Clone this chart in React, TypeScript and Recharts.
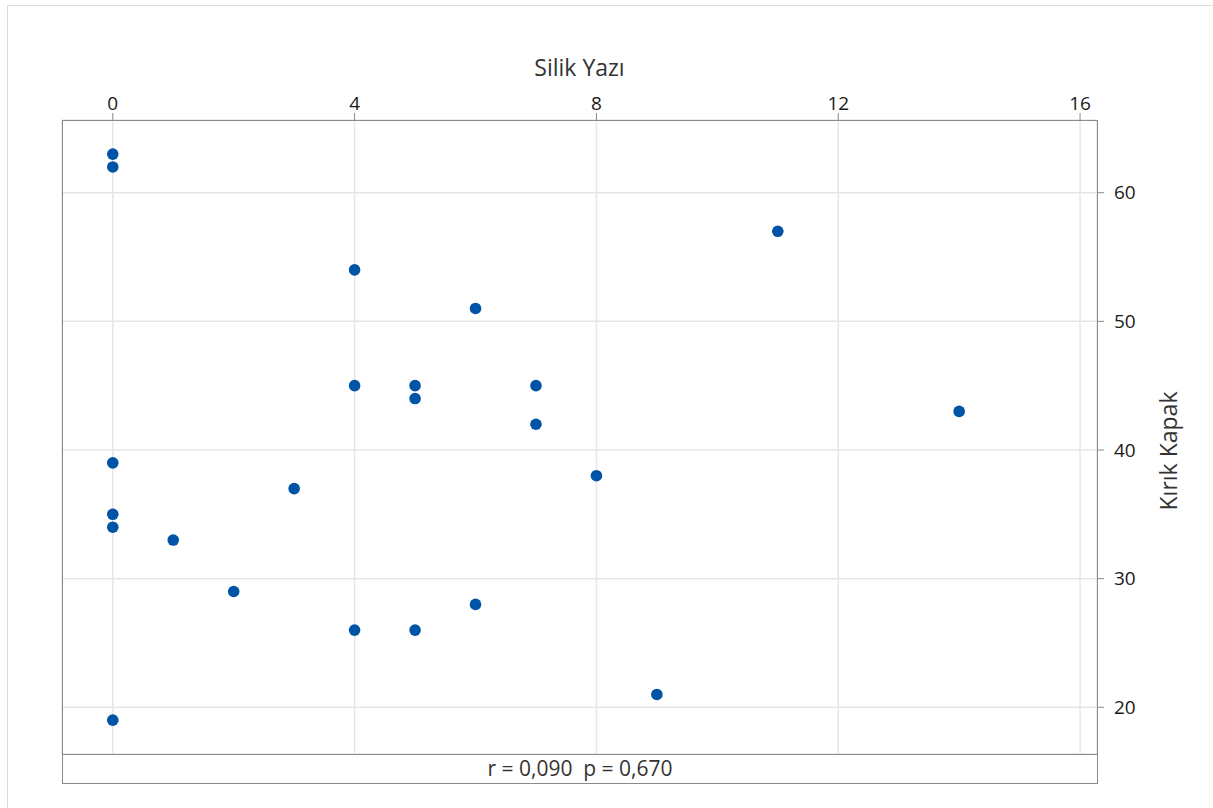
import { ScatterChart, Scatter, XAxis, YAxis, CartesianGrid } from "recharts";

const silikYazi = [0, 0, 0, 0, 0, 0, 1, 2, 3, 4, 4, 4, 5, 5, 5, 6, 6, 7, 7, 8, 9, 11, 14];
const kirikKapak = [63, 62, 39, 35, 34, 19, 33, 29, 37, 54, 45, 26, 45, 44, 26, 51, 28, 45, 42, 38, 21, 57, 43];
const xTicks = [0, 4, 8, 12, 16];
const yTicks = [20, 30, 40, 50, 60];
const statsText = "r = 0,090  p = 0,670";

const FONT = "'Open Sans', 'Noto Sans', sans-serif";
const DOT = "#0054a6";

const points = silikYazi.map((x, i) => ({ x, y: kirikKapak[i] }));

export default function App() {
  return (
    <div style={{ position: "absolute", left: 0, top: 0, width: 1213, height: 808, overflow: "hidden", background: "#fff", fontFamily: FONT }}>
      {/* outer frame, runs off the page on right/bottom */}
      <div style={{ position: "absolute", left: 7, top: 5, width: 1300, height: 900, border: "1px solid #dcdcdc" }} />
      <ScatterChart width={1213} height={808} margin={{ top: 50, right: 36, bottom: 54, left: 62 }}>
        <CartesianGrid stroke="#e6e6e6" strokeWidth={1.5} />
        <XAxis
          type="number"
          dataKey="x"
          orientation="top"
          height={70}
          domain={[-0.84, 16.28]}
          ticks={xTicks}
          allowDataOverflow
          axisLine={false}
          tickSize={7}
          tickMargin={3}
          tickLine={{ stroke: "#888" }}
          tick={{ fill: "#1a1a1a", fontSize: 19, fontFamily: FONT }}
          label={(props: any) => {
            const vb = props.viewBox;
            return (
              <text x={vb.x + vb.width / 2} y={76} textAnchor="middle" fill="#333" fontSize={23} fontFamily={FONT}>
                Silik Yazı
              </text>
            );
          }}
        />
        <YAxis
          type="number"
          dataKey="y"
          orientation="right"
          width={80}
          domain={[16.37, 65.65]}
          ticks={yTicks}
          allowDataOverflow
          axisLine={false}
          tickSize={7}
          tickLine={{ stroke: "#888" }}
          tick={{ fill: "#1a1a1a", fontSize: 19, fontFamily: FONT, textAnchor: "start" }}
          tickMargin={10}
          label={(props: any) => {
            const vb = props.viewBox;
            const cx = vb.x + 80;
            const cy = vb.y + vb.height / 2 + 14;
            return (
              <text x={cx} y={cy} transform={`rotate(-90, ${cx}, ${cy})`} textAnchor="middle" fill="#333" fontSize={23} fontFamily={FONT}>
                Kırık Kapak
              </text>
            );
          }}
        />
        <Scatter
          data={points}
          isAnimationActive={false}
          shape={(p: any) => <circle cx={p.cx} cy={p.cy} r={5.8} fill={DOT} />}
        />
      </ScatterChart>
      {/* plot frame */}
      <div style={{ position: "absolute", left: 62, top: 120, width: 1034, height: 633, border: "1px solid #8a8a8a", pointerEvents: "none" }} />
      {/* stats strip */}
      <div
        style={{
          position: "absolute",
          left: 62,
          top: 754,
          width: 1034,
          height: 29,
          borderLeft: "1px solid #8a8a8a",
          borderRight: "1px solid #8a8a8a",
          borderBottom: "1px solid #8a8a8a",
          textAlign: "center",
          fontSize: 21,
          lineHeight: "29px",
          color: "#333",
          whiteSpace: "pre",
        }}
      >
        {statsText}
      </div>
    </div>
  );
}
